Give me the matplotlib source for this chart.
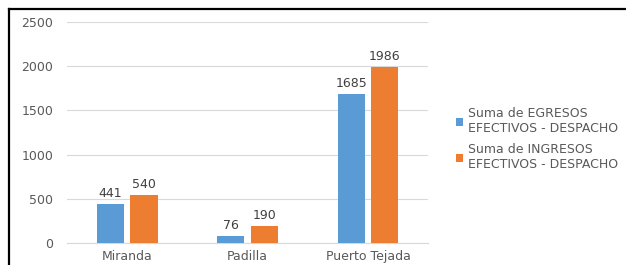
import numpy as np
import matplotlib
matplotlib.use("Agg")
import matplotlib.pyplot as plt
from matplotlib.lines import Line2D

# datos del gráfico
municipios = ["Miranda", "Padilla", "Puerto Tejada"]
egresos = [441, 76, 1685]
ingresos = [540, 190, 1986]
etiquetas = ["Suma de EGRESOS\nEFECTIVOS - DESPACHO", "Suma de INGRESOS\nEFECTIVOS - DESPACHO"]

azul = "#5b9bd5"
naranja = "#ed7d31"
gris = "#595959"

plt.rcParams['font.family'] = ['DejaVu Sans']

fig = plt.figure(figsize=(6.26, 2.65), dpi=100)
ax = fig.add_axes([0.107, 0.083, 0.577, 0.834])

x = np.arange(len(municipios))
ancho = 0.225
b1 = ax.bar(x - ancho/2 - 0.027, egresos, ancho, color=azul, label=etiquetas[0], zorder=3)
b2 = ax.bar(x + ancho/2 + 0.027, ingresos, ancho, color=naranja, label=etiquetas[1], zorder=3)

for barras in (b1, b2):
    for b in barras:
        ax.text(b.get_x() + b.get_width()/2, b.get_height() + 50, str(int(b.get_height())),
                ha='center', va='bottom', fontsize=9, color="#404040")

ax.set_ylim(0, 2500)
ax.set_xlim(-0.5, 2.5)
ax.set_yticks(range(0, 2501, 500))
ax.set_xticks(x)
ax.set_xticklabels(municipios)
ax.grid(axis='y', color="#d9d9d9", linewidth=0.8, zorder=0)
for s in ["top", "right", "left"]:
    ax.spines[s].set_visible(False)
ax.spines["bottom"].set_color("#d9d9d9")
ax.tick_params(axis='both', length=0, colors=gris, labelsize=9)
ax.tick_params(axis='y', pad=10)
ax.tick_params(axis='x', pad=5)

ax.legend(loc='center left', bbox_to_anchor=(1.045, 0.47), frameon=False, fontsize=9,
          handlelength=0.6, handleheight=0.6, handletextpad=0.4, labelspacing=0.65,
          labelcolor=gris)

# marco negro recortado
fig.add_artist(Line2D([9/626, 9/626], [0, 1 - 9/265], color="black", linewidth=1.6, transform=fig.transFigure))
fig.add_artist(Line2D([9/626, 1], [1 - 9/265, 1 - 9/265], color="black", linewidth=1.6, transform=fig.transFigure))

fig.savefig("out.png", dpi=100)
